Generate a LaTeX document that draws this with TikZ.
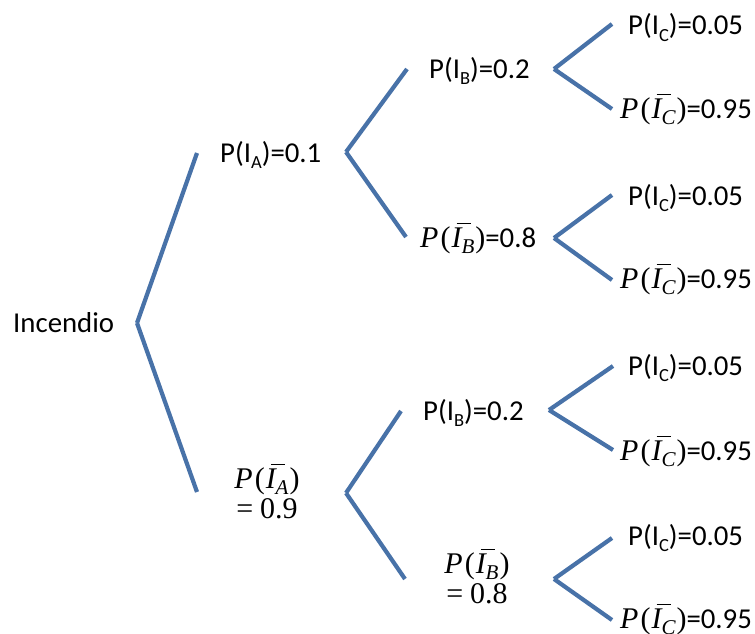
\documentclass[tikz,border=0pt]{standalone}
\usepackage{fontspec}
\setmainfont{Carlito}
\newfontfamily\mf{Liberation Serif}
\definecolor{branch}{RGB}{72,114,168}
\newcommand{\sbs}[1]{\raisebox{-6pt}{\fontsize{18.5}{18.5}\selectfont #1}}
\newcommand{\ovI}{\rlap{\kern5pt\raisebox{23pt}{\rule{14pt}{1.3pt}}}{\mf\itshape I}}
\newcommand{\nb}[1]{{\mf\fontsize{30}{30}\selectfont\itshape P\kern2pt\upshape(\kern1pt\ovI\raisebox{-6pt}{\itshape\fontsize{21}{21}\selectfont #1}\kern1pt)}}
\newcommand{\twol}[2]{\vbox{\offinterlineskip\halign{\hfil##\hfil\cr #1\rule[-9pt]{0pt}{9pt}\cr \rule{0pt}{21pt}#2\cr}}}
\begin{document}
\begin{tikzpicture}[x=1pt,y=-1pt,
  br/.style={draw=branch,line width=4.2pt},
  lab/.style={anchor=base west,inner sep=0pt,font=\fontsize{28.8}{30}\selectfont},
  lab2/.style={anchor=base,inner sep=0pt,font=\fontsize{28.8}{30}\selectfont}]
\useasboundingbox (0,0) rectangle (755,634);
% level 1
\coordinate (r) at (137,323);
\coordinate (a1) at (197,153);
\coordinate (a2) at (197,492);
% level 2
\coordinate (v1) at (346,152);
\coordinate (v1u) at (407,69);
\coordinate (v1d) at (406,237);
\coordinate (v2) at (346,493);
\coordinate (v2u) at (401,411);
\coordinate (v2d) at (405,579);
% level 3
\coordinate (w1) at (554,69);
\coordinate (w1u) at (612,24);
\coordinate (w1d) at (612,109);
\coordinate (w2) at (554,238);
\coordinate (w2u) at (612,195);
\coordinate (w2d) at (612,280);
\coordinate (w3) at (549,410);
\coordinate (w3u) at (613,366);
\coordinate (w3d) at (613,450);
\coordinate (w4) at (554,579);
\coordinate (w4u) at (612,538);
\coordinate (w4d) at (612,620);

\draw[br] (r) -- (a1);
\draw[br] (r) -- (a2);
\draw[br] (v1) -- (v1u);
\draw[br] (v1) -- (v1d);
\draw[br] (v2) -- (v2u);
\draw[br] (v2) -- (v2d);
\foreach \i in {1,2,3,4}{
  \draw[br] (w\i) -- (w\i u);
  \draw[br] (w\i) -- (w\i d);
}

% labels
\node[lab] (inc) at (13,332) {Incendio};
\node[lab] (ia) at (220,162) {P(I\sbs{A})=0.1};
\node[lab2] (nia) at (267,518) {\twol{\nb{A}}{\mf\fontsize{30}{30}\selectfont =\kern7pt0.9}};
\node[lab] (ib1) at (429,78) {P(I\sbs{B})=0.2};
\node[lab] (nib1) at (420,247) {\nb{B}=0.8};
\node[lab] (ib2) at (423,420) {P(I\sbs{B})=0.2};
\node[lab2] (nib2) at (477,603) {\twol{\nb{B}}{\mf\fontsize{30}{30}\selectfont =\kern7pt0.8}};
\foreach \i/\yb/\yc in {1/35/118, 2/205/288, 3/375/460, 4/545/628}{
  \node[lab] (ic\i) at (628,\yb) {P(I\sbs{C})=0.05};
  \node[lab] (nic\i) at (620,\yc) {\nb{C}=0.95};
}
\end{tikzpicture}
\end{document}
